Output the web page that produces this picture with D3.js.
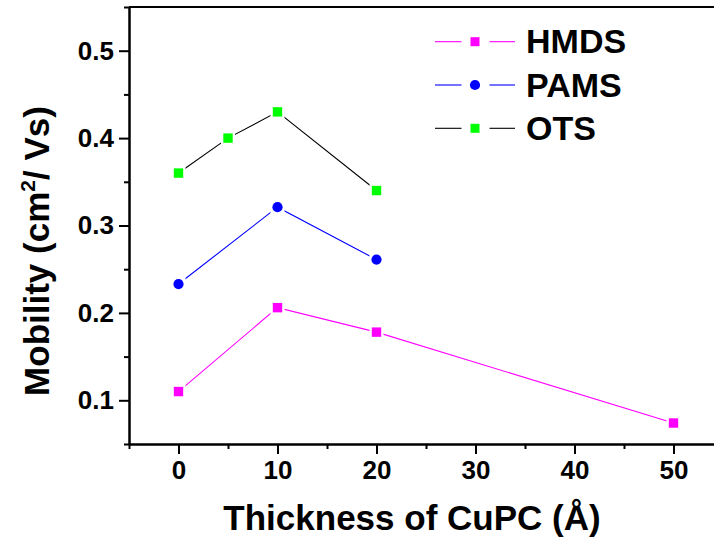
<!DOCTYPE html>
<html>
<head>
<meta charset="utf-8">
<script src="https://cdn.jsdelivr.net/npm/d3@7"></script>
<style>
  html, body { margin: 0; padding: 0; background: #fff; }
  svg { display: block; }
  text { font-family: "Liberation Sans", Arial, sans-serif; font-weight: bold; fill: #000; }
</style>
</head>
<body>
<svg id="chart" width="714" height="543"></svg>
<script>
// ---- data ----
const seriesNames = ["HMDS", "PAMS", "OTS"];
const hmdsX = [0, 10, 20, 50];
const hmdsY = [0.110, 0.206, 0.178, 0.074];
const pamsX = [0, 10, 20];
const pamsY = [0.233, 0.321, 0.261];
const otsX = [0, 5, 10, 20];
const otsY = [0.360, 0.400, 0.430, 0.340];
const xTicks = [0, 10, 20, 30, 40, 50];
const xMinorTicks = [-5, 5, 15, 25, 35, 45, 55];
const yTicks = [0.1, 0.2, 0.3, 0.4, 0.5];
const yMinorTicks = [0.05, 0.15, 0.25, 0.35, 0.45, 0.55];
const xTitle = "Thickness of CuPC (Å)";

// ---- layout ----
const W = 714, H = 543;
const pLeft = 129, pTop = 7, pBottom = 444, pRight = 723;
const svg = d3.select("#chart");

const x = d3.scaleLinear().domain([-5, 55]).range([pLeft, pRight]);
const y = d3.scaleLinear().domain([0.05, 0.55]).range([pBottom, pTop]);

const series = [
  { name: seriesNames[0], xs: hmdsX, ys: hmdsY, line: "#ff00ff", fill: "#ff00ff", shape: "square" },
  { name: seriesNames[1], xs: pamsX, ys: pamsY, line: "#0000ff", fill: "#0000ff", shape: "circle" },
  { name: seriesNames[2], xs: otsX, ys: otsY, line: "#000000", fill: "#00ff00", shape: "square" }
];

// top frame line
svg.append("line")
  .attr("x1", pLeft).attr("x2", W + 5)
  .attr("y1", y(0.55)).attr("y2", y(0.55))
  .attr("stroke", "#000").attr("stroke-width", 2);

// minor axes
const gxm = svg.append("g").attr("transform", `translate(0,${pBottom})`)
  .call(d3.axisBottom(x).tickValues(xMinorTicks).tickSize(5).tickSizeOuter(0).tickFormat(""));
const gym = svg.append("g").attr("transform", `translate(${pLeft},0)`)
  .call(d3.axisLeft(y).tickValues(yMinorTicks).tickSize(5).tickSizeOuter(0).tickFormat(""));
// major axes
const gx = svg.append("g").attr("transform", `translate(0,${pBottom})`)
  .call(d3.axisBottom(x).tickValues(xTicks).tickSize(10).tickPadding(7).tickSizeOuter(0).tickFormat(d3.format("d")));
const gy = svg.append("g").attr("transform", `translate(${pLeft},0)`)
  .call(d3.axisLeft(y).tickValues(yTicks).tickSize(10).tickPadding(5).tickSizeOuter(0).tickFormat(d3.format(".1f")));

[gxm, gym, gx, gy].forEach(g => {
  g.selectAll("path.domain").attr("stroke", "#000").attr("stroke-width", 2);
  g.selectAll(".tick line").attr("stroke", "#000").attr("stroke-width", 2);
});
[gx, gy].forEach(g => g.selectAll("text")
  .attr("font-family", "'Liberation Sans', Arial, sans-serif")
  .attr("font-weight", "bold").attr("font-size", 26).attr("fill", "#000"));

// ---- series ----
const lineGen = d3.line().x(d => x(d[0])).y(d => y(d[1]));
series.forEach(s => {
  const pts = s.xs.map((v, i) => [v, s.ys[i]]);
  svg.append("path").datum(pts)
    .attr("d", lineGen).attr("fill", "none")
    .attr("stroke", s.line).attr("stroke-width", 1.1);
  // halos (gap between line and marker)
  svg.append("g").selectAll("rect").data(pts).join("rect")
    .attr("x", d => x(d[0]) - 7).attr("y", d => y(d[1]) - 7)
    .attr("width", 14).attr("height", 14).attr("fill", "#fff");
  const g = svg.append("g");
  if (s.shape === "square") {
    g.selectAll("rect").data(pts).join("rect")
      .attr("x", d => x(d[0]) - 4.7).attr("y", d => y(d[1]) - 4.7)
      .attr("width", 9.4).attr("height", 9.4).attr("fill", s.fill);
  } else {
    g.selectAll("circle").data(pts).join("circle")
      .attr("cx", d => x(d[0])).attr("cy", d => y(d[1]))
      .attr("r", 5.1).attr("fill", s.fill);
  }
});

// ---- legend ----
const legY = [41.7, 85, 128.3];
series.forEach((s, i) => {
  const g = svg.append("g").attr("transform", `translate(0,${legY[i]})`);
  g.append("line").attr("x1", 435).attr("x2", 461.5).attr("y1", 0).attr("y2", 0)
    .attr("stroke", s.line).attr("stroke-width", 1.1);
  g.append("line").attr("x1", 489.5).attr("x2", 515).attr("y1", 0).attr("y2", 0)
    .attr("stroke", s.line).attr("stroke-width", 1.1);
  if (s.shape === "square") {
    g.append("rect").attr("x", 475 - 4.5).attr("y", -4.5).attr("width", 9).attr("height", 9).attr("fill", s.fill);
  } else {
    g.append("circle").attr("cx", 475).attr("cy", 0).attr("r", 5.1).attr("fill", s.fill);
  }
  g.append("text").attr("x", 526).attr("y", 11.5).attr("font-size", 34).text(s.name);
});

// ---- axis titles ----
svg.append("text")
  .attr("x", 412).attr("y", 530)
  .attr("text-anchor", "middle").attr("font-size", 35)
  .text(xTitle);

const yt = svg.append("text")
  .attr("transform", "translate(49,251) rotate(-90)")
  .attr("text-anchor", "middle").attr("font-size", 35);
yt.append("tspan").text("Mobility (cm");
yt.append("tspan").attr("font-size", 21).attr("dy", -14).text("2");
yt.append("tspan").attr("dy", 14).text("/ Vs)");
</script>
</body>
</html>
